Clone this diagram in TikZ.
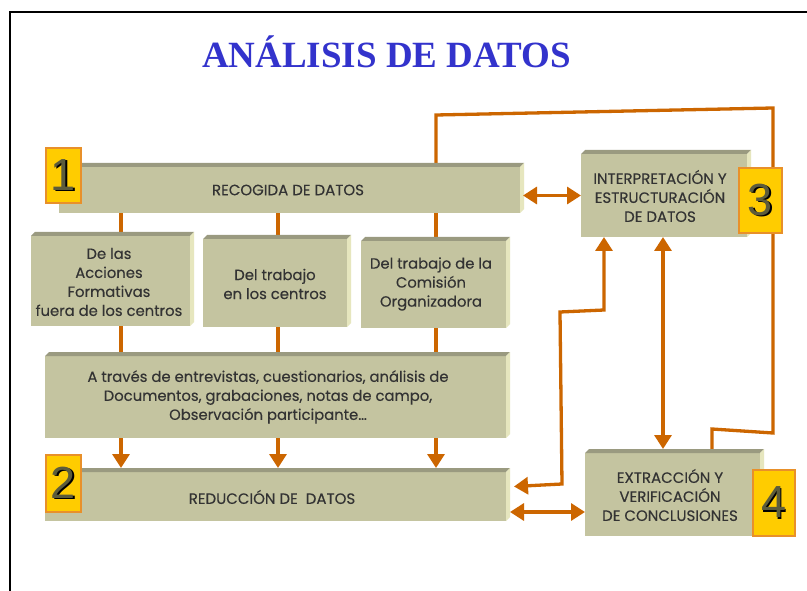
\documentclass[tikz,border=0pt]{standalone}
\usepackage{fontspec}
\setmainfont{Poppins}[FakeBold=0.25]
\newfontfamily\titlefont{Liberation Serif}
\newfontfamily\digitfont{Liberation Sans}
\usetikzlibrary{arrows.meta}
\pgfdeclarelayer{bg}
\pgfsetlayers{bg,main}
\definecolor{facec}{HTML}{C4C4A0}
\definecolor{bevtopc}{HTML}{9A9A80}
\definecolor{bevsidec}{HTML}{E6E6BE}
\definecolor{badgec}{HTML}{FFCC00}
\definecolor{badgeline}{HTML}{E8902A}
\definecolor{orgc}{HTML}{CC6600}
\definecolor{txtc}{HTML}{333333}
\definecolor{titlec}{HTML}{3333CC}
\definecolor{digc}{HTML}{5C5C3C}
\tikzset{
  facestyle/.style={fill=facec, inner sep=0pt, outer sep=0pt},
  boxtext/.style={text=txtc, align=center, font=\fontsize{14.8}{19}\selectfont, inner sep=0pt},
  capstext/.style={boxtext, font=\fontsize{15}{19}\selectfont},
  badge/.style={fill=badgec, draw=badgeline, line width=1.2pt, inner sep=0pt, font=\digitfont\fontsize{45}{45}\selectfont},
  conn/.style={draw=orgc, line width=3.3pt},
  tipa/.tip={Triangle[width=17pt,length=14pt]},
  arr/.style={conn, -tipa},
  darr/.style={conn, tipa-tipa},
  titlestyle/.style={text=titlec, font=\titlefont\bfseries\fontsize{37}{37}\selectfont, inner sep=0pt}
}
\newcommand\facebox[5]{%
  \node[facestyle, minimum width={#4pt-#2pt}, minimum height={#5pt-#3pt}] (#1) at ({(#2+#4)/2},{(#3+#5)/2}) {};
  \fill[bevtopc] (#1.north west) -- ++(4,-4) -- ([shift={(4,-4)}]#1.north east) -- (#1.north east) -- cycle;
  \fill[bevsidec] (#1.north east) -- ++(4,-4) -- ([shift={(4,-4)}]#1.south east) -- (#1.south east) -- cycle;
  \coordinate (#1-t) at ([yshift=4pt]#1.north);
}
\newcommand\bigdigit[1]{\rlap{\hspace{1.5pt}\raisebox{-1.5pt}{\color{black}#1}}{\color{digc}#1}}
\begin{document}
\begin{tikzpicture}[x=1pt,y=-1pt]
\useasboundingbox (0,0) rectangle (807,591);
\begin{pgfonlayer}{bg}
\fill[white] (0,0) rectangle (807,591);
\end{pgfonlayer}
\draw[line width=2pt] (10,591) -- (10,12) -- (807,12);
\node[titlestyle, anchor=base] (title) at (386.5,68) {ANÁLISIS DE DATOS};

% boxes
\facebox{b1}{59}{167}{520}{213}
\facebox{sA}{31}{236}{190}{326}
\facebox{sB}{203}{239}{347}{327}
\facebox{sC}{361}{241}{506}{328}
\facebox{thr}{45}{356}{506}{438}
\facebox{red}{45}{472}{506}{521}
\facebox{int}{581}{154}{747}{237}
\facebox{ext}{585}{453}{760}{536}

% texts
\node[capstext] (tb1) at (288,190) {RECOGIDA DE DATOS};
\node[boxtext] (tsA) at (109,282) {De las\\Acciones\\Formativas\\fuera de los centros};
\node[boxtext] (tsB) at (275,284) {Del trabajo\\en los centros};
\node[boxtext] (tsC) at (431,284) {Del trabajo de la\\Comisión\\Organizadora};
\node[boxtext] (tthr) at (268,397) {A través de entrevistas, cuestionarios, análisis de\\Documentos, grabaciones, notas de campo,\\Observación participante…};
\node[capstext] (tred) at (272,497) {REDUCCIÓN DE\ \ DATOS};
\node[capstext] (tint) at (660,196) {INTERPRETACIÓN Y\\ESTRUCTURACIÓN\\DE DATOS};
\node[capstext] (text) at (670,495) {EXTRACCIÓN Y\\VERIFICACIÓN\\DE CONCLUSIONES};

% connectors
\coordinate (xa) at (121,0);
\coordinate (xb) at (278,0);
\coordinate (xc) at (436,0);
\coordinate (xd) at (712,0);
\coordinate (xe) at (663,0);
\coordinate (yb) at (0,512);
\coordinate (c1) at (436,115);
\coordinate (c2) at (773,108);
\coordinate (c3) at (773,433);
\coordinate (c4) at (712,429);
\coordinate (q1) at (562,484);
\coordinate (q2) at (560,312);
\coordinate (q3) at (604,310);
\begin{pgfonlayer}{bg}
\foreach \c/\s in {xa/sA, xb/sB, xc/sC} {
  \draw[conn] (\c |- b1.south) -- (\c |- \s.north);
  \draw[conn] (\c |- \s.south) -- (\c |- thr.north);
  \draw[arr] (\c |- thr.south) -- (\c |- red-t);
}
\draw[conn] (xc |- b1.north) -- (c1) -- (c2) -- (c3) -- (c4) -- (xd |- ext.north);
\end{pgfonlayer}
\draw[darr] ([xshift=3pt]b1.east |- int.west) -- (int.west);
\draw[darr] ([shift={(8,-10)}]red.east) -- (q1) -- (q2) -- (q3) -- (q3 |- int.south);
\draw[darr] (xe |- int.south) -- (xe |- ext-t);
\draw[darr] ([xshift=4pt]red.east |- yb) -- (ext.west |- yb);

% badges
\node[badge, minimum width=35pt, minimum height=55pt] (n1) at (63.5,175.5) {\bigdigit{1}};
\node[badge, minimum width=35pt, minimum height=57pt] (n2) at (63.5,483.5) {\bigdigit{2}};
\node[badge, minimum width=43pt, minimum height=65pt] (n3) at (760.5,200.5) {\bigdigit{3}};
\node[badge, minimum width=42pt, minimum height=66pt] (n4) at (774,503) {\bigdigit{4}};
\end{tikzpicture}
\end{document}
